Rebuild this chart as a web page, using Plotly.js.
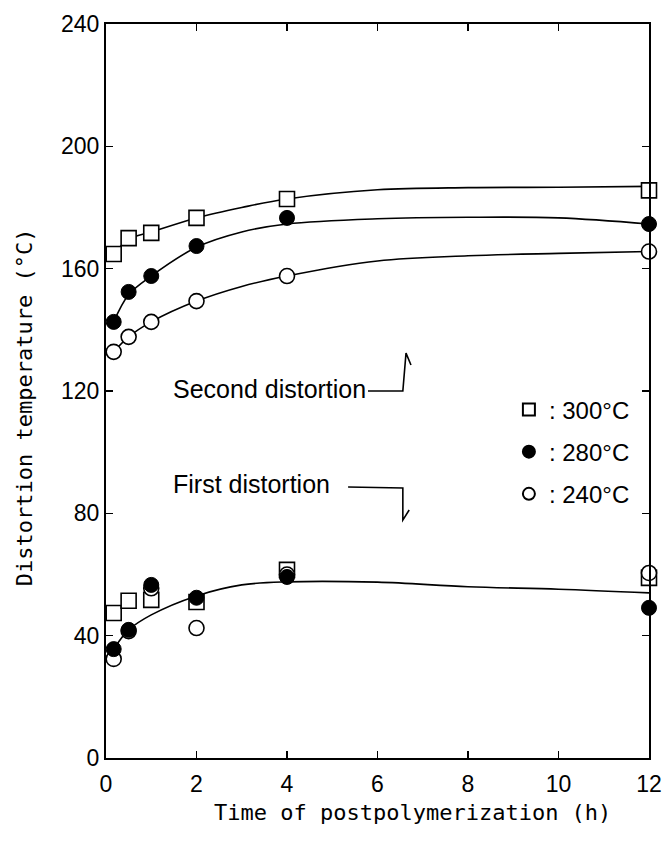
<!DOCTYPE html>
<html>
<head>
<meta charset="utf-8">
<script src="https://cdn.plot.ly/plotly-3.0.1.min.js"></script>
<style>html,body{margin:0;padding:0;background:#fff;}#chart{width:667px;height:843px;}</style>
</head>
<body>
<div id="chart"></div>
<script>
// Measured times (h)
var times = [0.17, 0.5, 1, 2, 4, 12];

// Second distortion temperature (°C)
var second300 = [164.8, 170.0, 171.7, 176.6, 182.8, 185.6];
var second280 = [142.6, 152.4, 157.6, 167.4, 176.6, 174.6];
var second240 = [132.8, 137.7, 142.6, 149.4, 157.6, 165.6];

// First distortion temperature (°C)
var first300 = [47.4, 51.4, 51.7, 51.0, 61.5, 58.9];
var first280 = [35.6, 41.9, 56.6, 52.4, 59.2, 49.1];
var first240 = [32.4, 41.5, 55.5, 42.5, 60.0, 60.5];

// Smooth fitted curves
var curveX = [0.17, 0.5, 1, 2, 3, 4, 6, 8, 10, 12];
var curve300 = [164.8, 169.6, 172.0, 176.6, 180.0, 182.8, 185.8, 186.5, 186.6, 186.9];
var curve280 = [142.6, 151.5, 157.6, 167.0, 172.0, 174.6, 176.3, 176.8, 176.6, 174.6];
var curve240 = [132.8, 137.7, 142.6, 149.4, 154.2, 157.6, 162.5, 164.2, 165.0, 165.6];
var curveFirst = [35.6, 41.9, 46.8, 53.0, 56.6, 57.6, 57.5, 56.0, 55.2, 54.0];

// Tick labels
var xTicks = [0, 2, 4, 6, 8, 10, 12];
var yTicks = [0, 40, 80, 120, 160, 200, 240];

// Texts
var legendNames = [': 300\u00B0C', ': 280\u00B0C', ': 240\u00B0C'];
var xTitle = 'Time of postpolymerization (h)';
var yTitle = 'Distortion temperature (\u00B0C)';

var sans = 'Liberation Sans, Arial, sans-serif';
var mono = 'DejaVu Sans Mono, monospace';

function curve(y) {
  return {x: curveX, y: y, mode: 'lines', type: 'scatter', showlegend: false,
          line: {color: '#000', width: 1.6, shape: 'spline', smoothing: 1},
          cliponaxis: false, hoverinfo: 'skip'};
}
var both = times.concat(times);

var traces = [
  curve(curve300), curve(curve280), curve(curve240), curve(curveFirst),
  {x: both, y: second300.concat(first300), mode: 'markers', type: 'scatter',
   name: legendNames[0], legendgroup: 'a', legendrank: 1, cliponaxis: false,
   marker: {symbol: 'square', size: 15, color: '#fff', line: {color: '#000', width: 1.6}}},
  {x: both, y: second240.concat(first240), mode: 'markers', type: 'scatter',
   name: legendNames[2], legendgroup: 'c', legendrank: 3, cliponaxis: false,
   marker: {symbol: 'circle', size: 15, color: '#fff', line: {color: '#000', width: 1.6}}},
  {x: both, y: second280.concat(first280), mode: 'markers', type: 'scatter',
   name: legendNames[1], legendgroup: 'b', legendrank: 2, cliponaxis: false,
   marker: {symbol: 'circle', size: 15, color: '#000', line: {color: '#000', width: 1}}}
];

var axisCommon = {
  showline: true, linewidth: 2, linecolor: '#000', mirror: 'ticks',
  ticks: 'inside', ticklen: 7, tickwidth: 1.5, tickcolor: '#000',
  showgrid: false, zeroline: false,
  tickfont: {family: sans, size: 23, color: '#000'}
};

var layout = {
  width: 667, height: 843,
  margin: {l: 106, r: 18, t: 24, b: 85},
  paper_bgcolor: '#fff', plot_bgcolor: '#fff',
  font: {family: sans, color: '#000'},
  xaxis: Object.assign({}, axisCommon, {
    range: [0, 12], tickvals: xTicks, ticktext: xTicks.map(String), ticklabelstandoff: 4
  }),
  yaxis: Object.assign({}, axisCommon, {
    range: [0, 240], tickvals: yTicks, ticktext: yTicks.map(String)
  }),
  showlegend: true,
  legend: {
    x: 0.742, xanchor: 'left', y: 0.505, yanchor: 'top',
    font: {family: sans, size: 24, color: '#000'},
    itemsizing: 'constant', traceorder: 'grouped', tracegroupgap: 8,
    bgcolor: 'rgba(0,0,0,0)', borderwidth: 0
  },
  shapes: [
    {type: 'path', xref: 'x', yref: 'y', path: 'M5.79,120.0 L6.56,120.0 L6.63,132.4 L6.74,128.5',
     line: {color: '#000', width: 1.6}},
    {type: 'path', xref: 'x', yref: 'y', path: 'M5.35,88.6 L6.56,88.3 L6.56,77.8 L6.70,81.1',
     line: {color: '#000', width: 1.6}}
  ],
  annotations: [
    {text: 'Second distortion', xref: 'x', yref: 'y', x: 1.44, y: 120.5, xanchor: 'left', yanchor: 'middle',
     showarrow: false, font: {family: sans, size: 25, color: '#000'}},
    {text: 'First distortion', xref: 'x', yref: 'y', x: 1.44, y: 89.5, xanchor: 'left', yanchor: 'middle',
     showarrow: false, font: {family: sans, size: 25, color: '#000'}},
    {text: xTitle, xref: 'paper', yref: 'paper', x: 0.565, y: -0.0736, xanchor: 'center', yanchor: 'middle',
     showarrow: false, font: {family: mono, size: 22, color: '#000'}},
    {text: yTitle, xref: 'paper', yref: 'paper', x: -0.151, y: 0.478, xanchor: 'center', yanchor: 'middle',
     textangle: -90, showarrow: false, font: {family: mono, size: 22, color: '#000'}}
  ]
};

Plotly.newPlot('chart', traces, layout, {staticPlot: true, displayModeBar: false});
</script>
</body>
</html>
